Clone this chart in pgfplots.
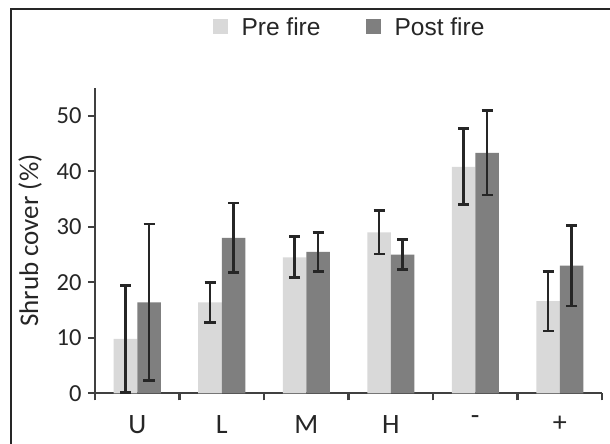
\documentclass[border=0pt]{standalone}
\usepackage{pgfplots}
\pgfplotsset{compat=1.18}
\usepackage{fontspec}
\setmainfont{Carlito}
\newfontfamily\arialf{Liberation Sans}
\definecolor{prec}{HTML}{D9D9D9}
\definecolor{postc}{HTML}{7F7F7F}
\definecolor{axc}{HTML}{404040}
\definecolor{errc}{HTML}{262626}
\pgfplotsset{
  myerr/.style={
    /pgfplots/error bars/y dir=both,
    /pgfplots/error bars/y explicit,
    /pgfplots/error bars/error bar style={line width=2.7bp, color=errc},
    /pgfplots/error bars/error mark options={rotate=90, line width=2.7bp, color=errc, mark size=5.5bp},
  }
}
\begin{document}
\begin{tikzpicture}
\useasboundingbox (0,0) rectangle (610bp,444bp);
\fill[white] (0,0) rectangle (610bp,444bp);
\draw[line width=2.5bp, color=black!85] (11bp,-5bp) -- (11bp,435bp) -- (620bp,435bp);
\begin{axis}[
  at={(95bp,50.7bp)}, anchor=south west,
  scale only axis, width=507bp, height=305.3bp,
  xmin=-0.5, xmax=5.5, ymin=0, ymax=55,
  axis x line*=bottom, axis y line*=left,
  axis line style={line width=2.2bp, color=axc},
  every tick/.style={line width=2.2bp, color=axc},
  tick align=outside,
  major tick length=7bp,
  ybar=0pt, bar width=23.5bp,
  xtick={-0.5,0.5,1.5,2.5,3.5,4.5,5.5},
  xticklabels={},
  extra x ticks={0,1,2,3,4,5},
  extra x tick labels={U,L,M,H,-,+},
  extra x tick style={major tick length=0pt},
  ytick={0,10,20,30,40,50},
  /pgf/number format/assume math mode=true,
  yticklabel style={font=\fontsize{24.5bp}{28bp}\selectfont, color=black!85, xshift=-3bp},
  xticklabel style={font=\fontsize{28bp}{32bp}\selectfont, color=black!85, yshift=-19bp},
  ylabel={Shrub cover (\%)},
  every axis y label/.style={at={(axis description cs:-0.128,0.5)}, rotate=90, anchor=center, font=\fontsize{27bp}{32bp}\selectfont, color=black!85},
  legend columns=2,
  legend style={draw=none, fill=none, at={(0.5,1.2)}, anchor=center,
    font=\arialf\fontsize{24.5bp}{29bp}\selectfont, text=black!85,
    column sep=14bp, /tikz/every even column/.append style={column sep=45bp},
    nodes={inner sep=0pt}},
]
\addplot[fill=prec, draw=none, myerr,
  legend image code/.code={\fill[prec] (0bp,-7.5bp) rectangle (15bp,7.5bp);}]
  coordinates {
  (0,9.8) +- (0,9.6)
  (1,16.4) +- (0,3.6)
  (2,24.5) +- (0,3.7)
  (3,29.0) +- (0,3.9)
  (4,40.8) +- (0,6.85)
  (5,16.6) +- (0,5.35)
  };
\addplot[fill=postc, draw=none, myerr,
  legend image code/.code={\fill[postc] (0bp,-7.5bp) rectangle (15bp,7.5bp);}]
  coordinates {
  (0,16.4) +- (0,14.1)
  (1,28.0) +- (0,6.3)
  (2,25.5) +- (0,3.5)
  (3,25.0) +- (0,2.7)
  (4,43.3) +- (0,7.6)
  (5,23.0) +- (0,7.25)
  };
\legend{Pre fire, Post fire}
\end{axis}
\end{tikzpicture}
\end{document}
